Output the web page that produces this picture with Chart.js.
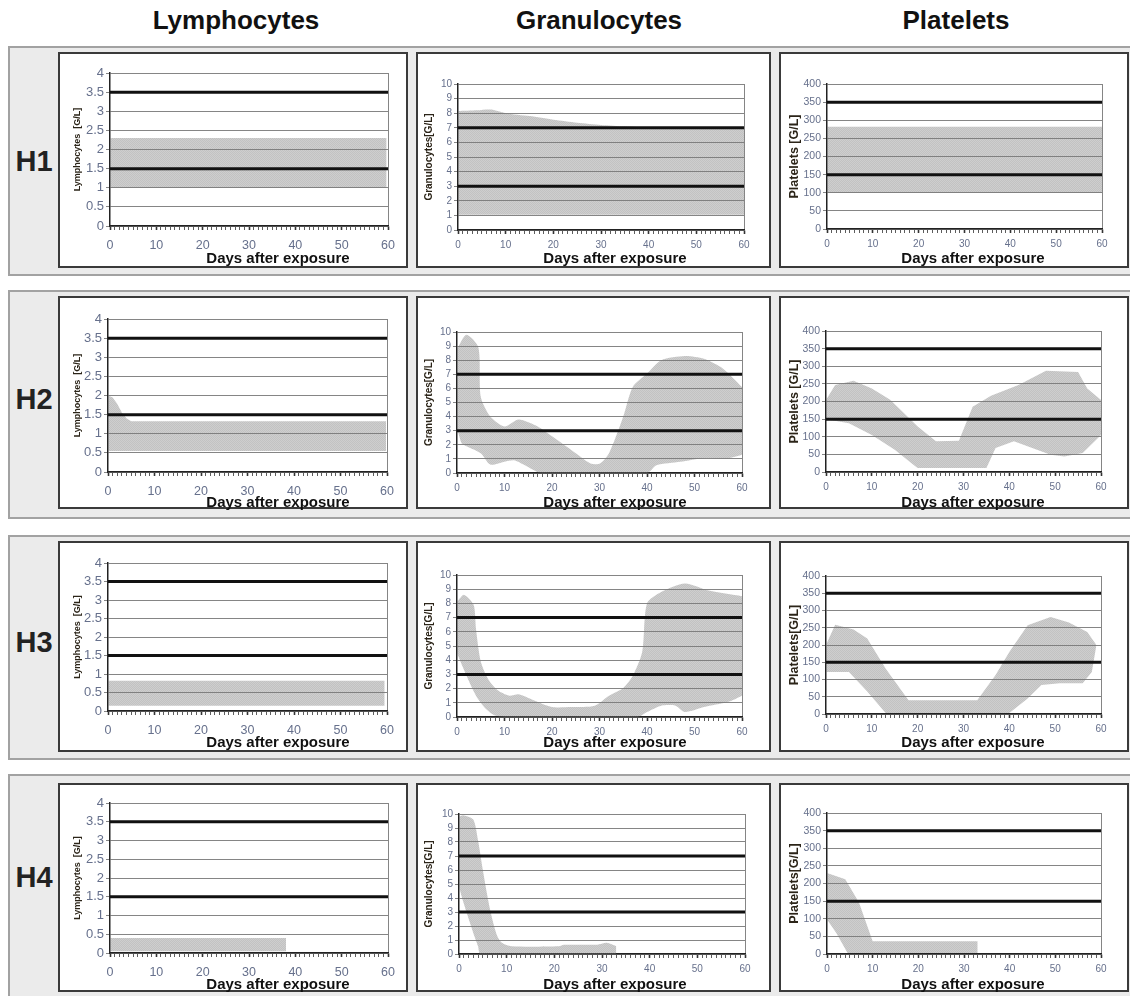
<!DOCTYPE html>
<html>
<head>
<meta charset="utf-8">
<script src="https://cdn.jsdelivr.net/npm/chart.js@4.4.0/dist/chart.umd.min.js"></script>
<style>
  body { margin: 0; width: 1130px; height: 996px; position: relative; overflow: hidden; background: #fff;
         font-family: "Liberation Sans", Arial, sans-serif; }
  .hdr { position: absolute; top: 5px; font-size: 26px; font-weight: bold; color: #111; transform: translateX(-50%); white-space: nowrap; }
  .band { position: absolute; left: 8px; width: 1126px; background: #ebebeb; border: 2px solid #a2a2a2; box-sizing: border-box; }
  .rowlab { position: absolute; left: 34px; font-size: 29px; font-weight: bold; color: #222; transform: translate(-50%, -50%); }
  .panel { position: absolute; background: #fff; border: 2px solid #3a3a3a; box-sizing: border-box; }
  canvas { position: absolute; }
  .xt { position: absolute; font-size: 15px; font-weight: bold; color: #111; transform: translate(-50%, -50%); white-space: nowrap; z-index: 5; }
</style>
</head>
<body>
<script>
// normal ranges, drawn as the thick black lines
const lymphNormal = [1.5, 3.5];
const granNormal = [3, 7];
const plateletNormal = [150, 350];

// H1
const h1LymTopDays = [0, 59.7];
const h1LymTop = [2.3, 2.3];
const h1LymLowDays = [0, 59.7];
const h1LymLow = [1.0, 1.0];
const h1GranTopDays = [0, 4, 7, 10, 15, 20, 25, 30, 35, 40, 60];
const h1GranTop = [8.15, 8.2, 8.25, 8.0, 7.8, 7.55, 7.35, 7.2, 7.1, 7.0, 7.0];
const h1GranLowDays = [0, 60];
const h1GranLow = [1.05, 1.05];
const h1PltTopDays = [0, 60];
const h1PltTop = [282, 282];
const h1PltLowDays = [0, 60];
const h1PltLow = [100, 100];

// H2
const h2LymTopDays = [0, 1, 2, 3, 4, 5, 59.8];
const h2LymTop = [2.0, 1.95, 1.78, 1.55, 1.4, 1.33, 1.33];
const h2LymLowDays = [0, 59.8];
const h2LymLow = [0.55, 0.55];
const h2GranTopDays = [0, 2, 4.5, 5, 7, 10, 13, 17, 20, 25, 28, 30, 32, 35, 37, 40, 43, 48, 52, 56, 60];
const h2GranTop = [8.8, 9.8, 8.9, 5.4, 4.0, 3.3, 3.8, 3.3, 2.6, 1.4, 0.7, 0.65, 1.4, 4.0, 6.1, 7.05, 8.0, 8.3, 8.1, 7.4, 6.1];
const h2GranLowDays = [0, 1, 2, 5, 7, 10, 12, 14, 17, 18, 40, 42, 47, 52, 57, 60];
const h2GranLow = [3.2, 2.1, 1.9, 1.4, 0.6, 0.8, 0.9, 0.6, 0.05, 0, 0, 0.55, 0.8, 1.05, 1.05, 1.3];
const h2PltTopDays = [0, 2, 6, 10, 14, 20, 24, 29, 32, 36, 42, 48, 55, 57, 60];
const h2PltTop = [204, 247, 259, 237, 205, 129, 87, 89, 185, 216, 247, 287, 284, 237, 204];
const h2PltLowDays = [0, 5, 10, 15, 19, 20, 35, 37, 41, 45, 49, 52, 56, 60];
const h2PltLow = [150, 138, 105, 63, 21, 11, 11, 68, 87, 68, 49, 44, 54, 105];

// H3
const h3LymTopDays = [0, 59.5];
const h3LymTop = [0.82, 0.82];
const h3LymLowDays = [0, 59.5];
const h3LymLow = [0.14, 0.14];
const h3GranTopDays = [0, 1.5, 3.5, 4, 5, 6.5, 8.5, 11, 13, 16, 20, 24, 29, 32, 35, 37, 39, 40, 43, 48, 53, 60];
const h3GranTop = [8.1, 8.6, 7.9, 6.2, 3.9, 2.7, 1.9, 1.5, 1.6, 1.2, 0.7, 0.7, 0.8, 1.5, 2.05, 2.9, 4.6, 8.0, 8.8, 9.4, 8.9, 8.5];
const h3GranLowDays = [0, 2, 4, 6, 8, 10, 38, 40, 43, 46, 48, 52, 57, 60];
const h3GranLow = [4.5, 2.9, 1.5, 0.6, 0.1, 0, 0, 0.35, 0.8, 0.8, 0.35, 0.7, 1.05, 1.5];
const h3PltTopDays = [0, 2, 6, 9, 13, 18, 33, 37, 40, 44, 49, 53, 57, 59];
const h3PltTop = [200, 259, 245, 219, 132, 40, 40, 113, 180, 257, 281, 265, 238, 200];
const h3PltLowDays = [0, 5, 9, 13, 40, 44, 47, 51, 56, 58, 59];
const h3PltLow = [122, 122, 65, 3, 3, 45, 84, 89, 89, 122, 200];

// H4
const h4LymTopDays = [0, 38];
const h4LymTop = [0.4, 0.4];
const h4LymLowDays = [0, 38];
const h4LymLow = [0.05, 0.05];
const h4GranTopDays = [0, 1, 3, 4, 5, 6.5, 8, 9, 11, 21, 22, 29, 31, 33];
const h4GranTop = [9.8, 9.9, 9.6, 8.1, 6.0, 3.2, 1.3, 0.8, 0.55, 0.55, 0.66, 0.66, 0.8, 0.55];
const h4GranLowDays = [0, 1, 3, 4, 4.5, 33];
const h4GranLow = [4.8, 3.6, 1.5, 0.55, 0, 0];
const h4PltTopDays = [0, 4, 7, 10, 33];
const h4PltTop = [230, 212, 146, 36, 36];
const h4PltLowDays = [0, 2, 4.5, 33];
const h4PltLow = [98, 60, 3, 3];

const columnNames = ['Lymphocytes', 'Granulocytes', 'Platelets'];
const rowNames = ['H1', 'H2', 'H3', 'H4'];
const yTitles = [
  ['Lymphocytes  [G/L]', 'Granulocytes[G/L]', 'Platelets [G/L]'],
  ['Lymphocytes  [G/L]', 'Granulocytes[G/L]', 'Platelets [G/L]'],
  ['Lymphocytes  [G/L]', 'Granulocytes[G/L]', 'Platelets[G/L]'],
  ['Lymphocytes  [G/L]', 'Granulocytes[G/L]', 'Platelets[G/L]']
];
const xTitle = 'Days after exposure';

const panels = [
  {row: 0, col: 0, top: [h1LymTopDays, h1LymTop], low: [h1LymLowDays, h1LymLow]},
  {row: 0, col: 1, top: [h1GranTopDays, h1GranTop], low: [h1GranLowDays, h1GranLow]},
  {row: 0, col: 2, top: [h1PltTopDays, h1PltTop], low: [h1PltLowDays, h1PltLow]},
  {row: 1, col: 0, top: [h2LymTopDays, h2LymTop], low: [h2LymLowDays, h2LymLow]},
  {row: 1, col: 1, top: [h2GranTopDays, h2GranTop], low: [h2GranLowDays, h2GranLow]},
  {row: 1, col: 2, top: [h2PltTopDays, h2PltTop], low: [h2PltLowDays, h2PltLow]},
  {row: 2, col: 0, top: [h3LymTopDays, h3LymTop], low: [h3LymLowDays, h3LymLow]},
  {row: 2, col: 1, top: [h3GranTopDays, h3GranTop], low: [h3GranLowDays, h3GranLow]},
  {row: 2, col: 2, top: [h3PltTopDays, h3PltTop], low: [h3PltLowDays, h3PltLow]},
  {row: 3, col: 0, top: [h4LymTopDays, h4LymTop], low: [h4LymLowDays, h4LymLow]},
  {row: 3, col: 1, top: [h4GranTopDays, h4GranTop], low: [h4GranLowDays, h4GranLow]},
  {row: 3, col: 2, top: [h4PltTopDays, h4PltTop], low: [h4PltLowDays, h4PltLow]}
];

// page layout (pixels)
const headerX = [236, 599, 956];
const bandRows = [[46, 276], [290, 519], [535, 760], [774, 1000]];
const rowLabelY = [161, 399, 642, 877];
const colBox = [[58, 408], [416, 771], [779, 1129]];
const rowBox = [[52, 268], [296, 509], [541, 752], [783, 992]];
const plotBox = [
  [[110, 388, 73, 226], [458, 744, 84, 230], [827, 1102, 84, 229]],
  [[108, 387, 319, 472], [457, 742, 332, 473], [826, 1101, 331, 472]],
  [[108, 387, 563, 711], [457, 742, 575, 717], [826, 1101, 576, 714]],
  [[110, 388, 803, 953], [459, 745, 814, 954], [827, 1101, 813, 954]]
];
const yTitleX = [77, 429, 794];
const xTitleX = [278, 615, 973];
const xTitleY = [257, 501, 741, 983];

const cols = [
  {max: 4, step: 0.5, refs: lymphNormal, titleSize: 9, yTick: 13, xTick: 12.5, xPad: 8, tension: 0},
  {max: 10, step: 1, refs: granNormal, titleSize: 10, yTick: 10, xTick: 10, xPad: 5, tension: 0.25},
  {max: 400, step: 50, refs: plateletNormal, titleSize: 12.5, yTick: 10.5, xTick: 10, xPad: 5, tension: 0}
];

Chart.defaults.font.family = '"Liberation Sans", Arial, sans-serif';
const tickColor = '#66708c';
const gridColor = '#858585';

function el(cls, text, css) {
  const d = document.createElement('div');
  d.className = cls;
  if (text) d.textContent = text;
  Object.assign(d.style, css);
  document.body.appendChild(d);
  return d;
}

function stipple() {
  const c = document.createElement('canvas');
  c.width = 2; c.height = 2;
  const g = c.getContext('2d');
  g.fillStyle = 'rgba(120,120,120,0.36)';
  g.fillRect(0, 0, 2, 2);
  g.clearRect(0, 0, 1, 1);
  g.clearRect(1, 1, 1, 1);
  g.fillStyle = 'rgba(120,120,120,0.45)';
  g.fillRect(0, 0, 1, 1);
  g.fillRect(1, 1, 1, 1);
  return g.createPattern(c, 'repeat');
}

function points(days, vals) {
  return days.map((d, i) => ({x: d, y: vals[i]}));
}

columnNames.forEach((n, i) => el('hdr', n, {left: headerX[i] + 'px'}));
bandRows.forEach((b, i) => {
  el('band', '', {top: b[0] + 'px', height: (b[1] - b[0]) + 'px'});
  el('rowlab', rowNames[i], {top: rowLabelY[i] + 'px'});
});

const pattern = stipple();

panels.forEach(p => {
  const c = cols[p.col];
  const bx = colBox[p.col], by = rowBox[p.row];
  const pb = plotBox[p.row][p.col];
  el('panel', '', {left: bx[0] + 'px', top: by[0] + 'px', width: (bx[1] - bx[0]) + 'px', height: (by[1] - by[0]) + 'px'});

  const cv = document.createElement('canvas');
  cv.width = bx[1] - bx[0];
  cv.height = by[1] - by[0];
  cv.style.left = bx[0] + 'px';
  cv.style.top = by[0] + 'px';
  document.body.appendChild(cv);

  const padLeft = Math.round(yTitleX[p.col] - bx[0] - c.titleSize * 0.6);
  const yWidth = pb[0] - bx[0] - padLeft;
  const xHeight = by[1] - pb[3];

  new Chart(cv, {
    type: 'line',
    data: {
      datasets: [
        {data: points([0, 60], [c.refs[0], c.refs[0]]), borderColor: '#111', borderWidth: 3, pointRadius: 0, fill: false},
        {data: points([0, 60], [c.refs[1], c.refs[1]]), borderColor: '#111', borderWidth: 3, pointRadius: 0, fill: false},
        {data: points(p.low[0], p.low[1]), borderColor: 'rgba(0,0,0,0)', borderWidth: 0, pointRadius: 0,
         fill: false, tension: c.tension},
        {data: points(p.top[0], p.top[1]), borderColor: 'rgba(0,0,0,0)', borderWidth: 0, pointRadius: 0,
         fill: '-1', backgroundColor: pattern, tension: c.tension}
      ]
    },
    options: {
      responsive: false,
      animation: false,
      events: [],
      layout: {padding: {left: padLeft, top: pb[2] - by[0], right: bx[1] - pb[1], bottom: 0}},
      plugins: {legend: {display: false}, tooltip: {enabled: false}},
      scales: {
        x: {
          type: 'linear', min: 0, max: 60,
          ticks: {stepSize: 1, autoSkip: false, maxRotation: 0, minRotation: 0, padding: c.xPad,
                  color: tickColor, font: {size: c.xTick},
                  callback: v => (v % 10 === 0 ? String(v) : '')},
          grid: {drawOnChartArea: true, tickLength: 4, tickColor: '#333',
                 color: ctx => (ctx.tick && ctx.tick.value === 60 ? gridColor : 'rgba(0,0,0,0)'),
                 tickWidth: ctx => (ctx.tick && ctx.tick.value % 10 === 0 ? 1.6 : 0.8)},
          border: {color: '#222', width: 1.5},
          afterFit: s => { s.height = xHeight; }
        },
        y: {
          min: 0, max: c.max,
          ticks: {stepSize: c.step, autoSkip: false, padding: 2, color: tickColor, font: {size: c.yTick},
                  callback: v => String(v)},
          grid: {color: gridColor, lineWidth: 1, tickLength: 4, tickColor: gridColor},
          border: {color: '#222', width: 1.5},
          title: {display: true, text: yTitles[p.row][p.col], color: '#2b2418', padding: 0,
                  font: {size: c.titleSize, weight: 'bold'}},
          afterFit: s => { s.width = yWidth; }
        }
      }
    }
  });

  el('xt', xTitle, {left: xTitleX[p.col] + 'px', top: xTitleY[p.row] + 'px'});
});
</script>
</body>
</html>
